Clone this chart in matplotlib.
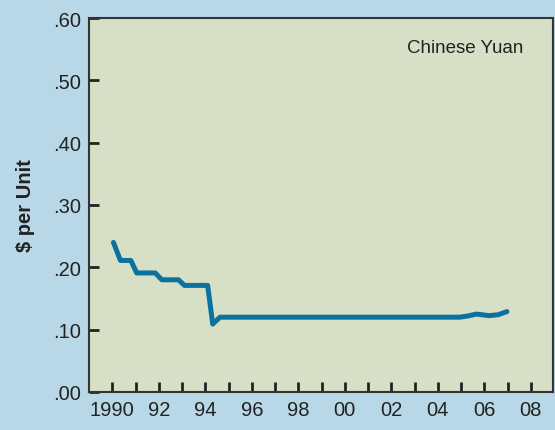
import matplotlib
matplotlib.use("Agg")
import matplotlib.pyplot as plt

plt.rcParams['font.family'] = ['Liberation Sans', 'DejaVu Sans']

# yuan in dollars (decimal years)
years = [1990.05, 1990.35, 1990.8, 1991.05, 1991.85, 1992.13, 1992.85, 1993.1,
         1994.1, 1994.32, 1994.63, 1996.0, 1998.0, 2000.0, 2002.0, 2004.0,
         2004.94, 2005.3, 2005.65, 2006.2, 2006.6, 2006.97]
values = [0.240, 0.211, 0.211, 0.191, 0.191, 0.180, 0.180, 0.171,
          0.171, 0.109, 0.120, 0.120, 0.120, 0.120, 0.120, 0.120,
          0.120, 0.122, 0.125, 0.1225, 0.124, 0.129]

xticks = list(range(1990, 2009))
xlabels = ['1990' if y == 1990 else ('%02d' % (y % 100) if y % 2 == 0 else '') for y in xticks]
yticks = [0.0, 0.1, 0.2, 0.3, 0.4, 0.5, 0.6]
ylabels = ['.00', '.10', '.20', '.30', '.40', '.50', '.60']

fig = plt.figure(figsize=(5.55, 4.31), dpi=100, facecolor='#b8d8e8')
ax = fig.add_axes([0.1604, 0.0882, 0.836, 0.8677])
ax.set_facecolor('#d7e0c6')

ax.plot(years, values, color='#0b72a0', lw=3.6, solid_capstyle='round', solid_joinstyle='round')

ax.set_xlim(1989.0, 2008.95)
ax.set_ylim(0, 0.6)
ax.set_xticks(xticks)
ax.set_xticklabels(xlabels, fontsize=14.5, color='#222222')
ax.set_yticks(yticks)
ax.set_yticklabels(ylabels, fontsize=14.5, color='#222222')
ax.tick_params(direction='in', length=7, width=2, color='#222222', pad=6)

for s in ax.spines.values():
    s.set_color('#333333')
    s.set_linewidth(1.5)

ax.set_ylabel('$ per Unit', fontsize=14.5, fontweight='bold', color='#222222', labelpad=13)
ax.text(0.81, 0.909, 'Chinese Yuan', transform=ax.transAxes, ha='center', va='baseline',
        fontsize=13.5, color='#222222')

plt.savefig('out.png', dpi=100, facecolor=fig.get_facecolor())
